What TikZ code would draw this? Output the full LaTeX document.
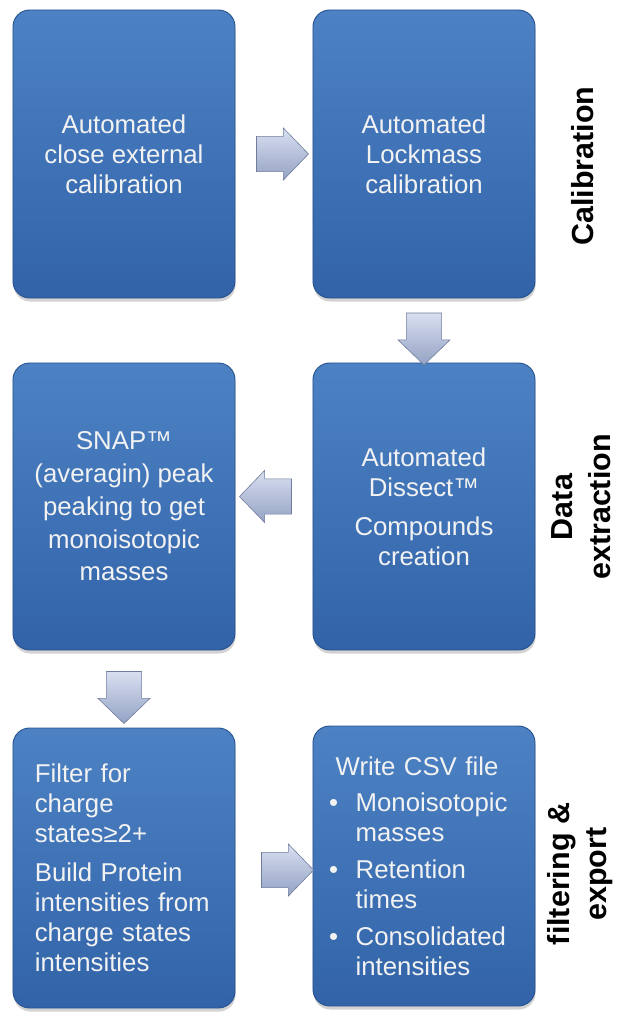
\documentclass[tikz,border=0pt]{standalone}
\usepackage{fontspec}
\setmainfont{Liberation Sans}
\usetikzlibrary{shapes.arrows,shadows,calc}

\definecolor{boxtop}{RGB}{76,130,196}
\definecolor{boxbot}{RGB}{50,99,168}
\definecolor{boxline}{RGB}{42,84,144}
\definecolor{arrtop}{RGB}{216,223,240}
\definecolor{arrbot}{RGB}{148,162,196}
\definecolor{arrline}{RGB}{112,124,156}

\tikzset{
  stage/.style={rectangle, rounded corners=0.5cm, draw=boxline, line width=0.8pt,
    top color=boxtop, bottom color=boxbot, text=white!95!black,
    minimum width=6.66cm, inner sep=0pt, align=center,
    drop shadow={opacity=0.35, shadow xshift=0.5pt, shadow yshift=-3pt},
    font=\fontsize{22}{25.5}\selectfont},
  flow/.style={single arrow, draw=arrline, line width=0.5pt,
    top color=arrtop, bottom color=arrbot,
    inner sep=0pt, inner ysep=0.52cm, minimum height=1.56cm, minimum width=1.45cm,
    single arrow tip angle=92},
  phase/.style={rotate=90, align=center, inner sep=0pt,
    font=\bfseries\fontsize{26}{32}\selectfont}
}

\begin{document}
\begin{tikzpicture}[x=0.03cm, y=-0.03cm]
  \useasboundingbox (0,0) rectangle (618,1013);

  % calibration row
  \node[stage, minimum height=8.64cm] (ext) at (124,154)
    {Automated\\close external\\calibration};
  \node[stage, minimum height=8.64cm] (lock) at (424,154)
    {Automated\\Lockmass\\calibration};

  % data extraction row
  \node[stage, minimum height=8.61cm, font=\fontsize{22}{28}\selectfont] (snap) at (124,506.5)
    {SNAP™\\(averagin) peak\\peaking to get\\monoisotopic\\masses};
  \node[stage, minimum height=8.61cm] (dis) at (424,506.5)
    {Automated\\Dissect™\\[8pt]Compounds\\creation};

  % filtering row
  \node[stage, minimum height=8.4cm, align=left, text width=5.35cm] (filt) at (124,868)
    {Filter for\\charge\\states≥2+\\[8pt]Build Protein\\intensities from\\charge states\\intensities};
  \node[stage, minimum height=8.4cm, align=left, text width=5.7cm] (csv) at (424,866)
    {\hspace*{0.2cm}Write CSV file\\[6pt]
     \makebox[0.8cm][l]{•}Monoisotopic\\\hspace*{0.8cm}masses\\[6pt]
     \makebox[0.8cm][l]{•}Retention\\\hspace*{0.8cm}times\\[6pt]
     \makebox[0.8cm][l]{•}Consolidated\\\hspace*{0.8cm}intensities};

  % block arrows between the stages
  \node[flow] (a1) at ($(ext.east)!0.5!(lock.west)$) {};
  \node[flow, rotate=-90] (a2) at ($(lock.south)!0.5!(dis.north)$) {};
  \node[flow, rotate=180] (a3) at ($(dis.west)!0.5!(snap.east)+(0,-10)$) {};
  \node[flow, rotate=-90] (a4) at ($(snap.south)!0.5!(filt.north)$) {};
  \node[flow] (a5) at ($(filt.east)!0.5!(csv.west)+(5,3)$) {};

  % phase labels
  \node[phase] (lcal) at (583,166) {Calibration};
  \node[phase] (lext) at (581,507) {Data\\extraction};
  \node[phase] (lexp) at (580,874) {filtering \&\\export};
\end{tikzpicture}
\end{document}
